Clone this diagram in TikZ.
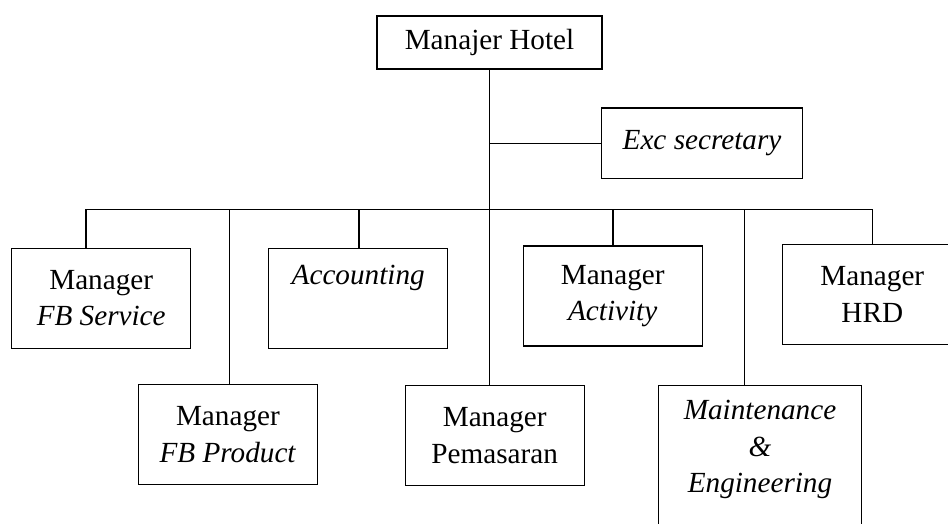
\documentclass[tikz,border=0pt]{standalone}
\usepackage{fontspec}
\setmainfont{Liberation Serif}
\usepackage{tikz}
\usetikzlibrary{positioning}

\begin{document}
\begin{tikzpicture}[
    x=1pt, y=-1pt,
    pimpinan/.style={draw, line width=1.2pt, inner sep=0pt, align=center, minimum width=225pt, minimum height=53pt, font=\fontsize{29.2}{36.5}\selectfont},
    unit/.style={draw, line width=1.2pt, inner sep=0pt, align=center, minimum width=179pt, minimum height=100pt, font=\fontsize{29.2}{36.5}\selectfont},
    garis/.style={line width=1.2pt}
]
    \useasboundingbox (0,0) rectangle (948,523);
    \clip (0,0) rectangle (948,523);

    % Manajer hotel
    \node[pimpinan] (hotel) at (489.5, 42.5) {Manajer Hotel};
    \node[pimpinan, minimum width=200.6pt, minimum height=70.6pt] (exc) at (702, 143.3) {\textit{Exc secretary}};

    % Baris atas
    \node[unit] (fbs) at (101.2, 298.2) {Manager\\\textit{FB Service}};
    \node[unit] (acc) at (358.2, 298.2) {\textit{Accounting}\\\strut};
    \node[unit] (act) at (612.7, 296) {Manager\\\textit{Activity}};
    \node[unit, minimum width=180pt] (hrd) at (872.3, 294.3) {Manager\\HRD};

    % Baris bawah
    \node[unit] (fbp) at (227.9, 434.5) {Manager\\\textit{FB Product}};
    \node[unit] (pms) at (494.7, 435.7) {Manager\\Pemasaran};
    \node[unit, minimum width=203.4pt, minimum height=170pt] (mte) at (760, 470.3) {\textit{Maintenance}\\\textit{\&}\\\textit{Engineering}\\\strut};

    % Garis komando
    \coordinate (busL) at (86, 209.3);
    \coordinate (busR) at (872.3, 209.3);
    \coordinate (dfbp) at (229.7, 209.3);
    \coordinate (dacc) at (359, 209.3);
    \coordinate (dact) at (613, 209.3);
    \coordinate (dmte) at (744.7, 209.3);

    \draw[garis] (hotel.south) -- (pms.north -| hotel.south);
    \draw[garis] (exc.west) -- (exc.west -| hotel.south);
    \draw[garis] (busL) -- (busR);

    \draw[garis] (busL) -- (busL |- fbs.north);
    \draw[garis] (dfbp) -- (dfbp |- fbp.north);
    \draw[garis] (dacc) -- (dacc |- acc.north);
    \draw[garis] (dact) -- (dact |- act.north);
    \draw[garis] (dmte) -- (dmte |- mte.north);
    \draw[garis] (busR) -- (busR |- hrd.north);

\end{tikzpicture}
\end{document}
